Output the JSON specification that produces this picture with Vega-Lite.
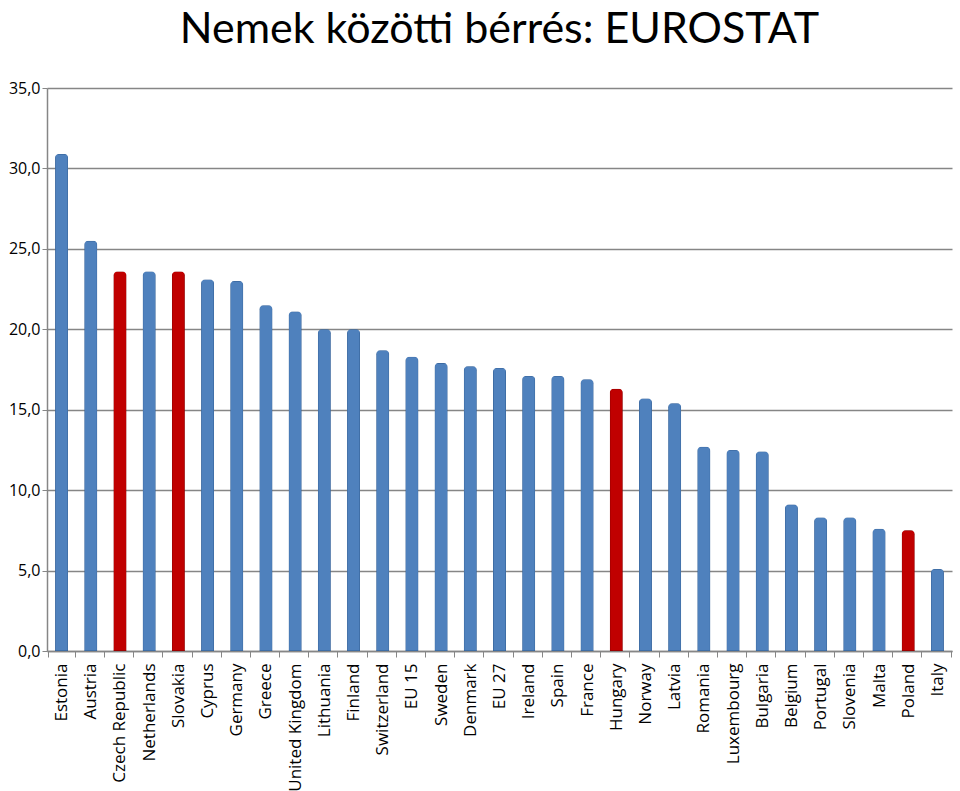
{
  "$schema": "https://vega.github.io/schema/vega-lite/v6.json",
  "autosize": {"type": "none"},
  "width": 905,
  "height": 563,
  "padding": {"left": 47, "top": 88, "right": 8, "bottom": 140},
  "background": "white",
  "title": {
    "text": "Nemek közötti bérrés: EUROSTAT",
    "font": "Lato",
    "fontSize": 43,
    "fontWeight": "normal",
    "color": "black",
    "anchor": "middle",
    "offset": -6,
    "baseline": "alphabetic"
  },
  "data": {
    "values": [
      {"country": "Estonia", "value": 30.9, "group": "other"},
      {"country": "Austria", "value": 25.5, "group": "other"},
      {"country": "Czech Republic", "value": 23.6, "group": "v4"},
      {"country": "Netherlands", "value": 23.6, "group": "other"},
      {"country": "Slovakia", "value": 23.6, "group": "v4"},
      {"country": "Cyprus", "value": 23.1, "group": "other"},
      {"country": "Germany", "value": 23.0, "group": "other"},
      {"country": "Greece", "value": 21.5, "group": "other"},
      {"country": "United Kingdom", "value": 21.1, "group": "other"},
      {"country": "Lithuania", "value": 20.0, "group": "other"},
      {"country": "Finland", "value": 20.0, "group": "other"},
      {"country": "Switzerland", "value": 18.7, "group": "other"},
      {"country": "EU 15", "value": 18.3, "group": "other"},
      {"country": "Sweden", "value": 17.9, "group": "other"},
      {"country": "Denmark", "value": 17.7, "group": "other"},
      {"country": "EU 27", "value": 17.6, "group": "other"},
      {"country": "Ireland", "value": 17.1, "group": "other"},
      {"country": "Spain", "value": 17.1, "group": "other"},
      {"country": "France", "value": 16.9, "group": "other"},
      {"country": "Hungary", "value": 16.3, "group": "v4"},
      {"country": "Norway", "value": 15.7, "group": "other"},
      {"country": "Latvia", "value": 15.4, "group": "other"},
      {"country": "Romania", "value": 12.7, "group": "other"},
      {"country": "Luxembourg", "value": 12.5, "group": "other"},
      {"country": "Bulgaria", "value": 12.4, "group": "other"},
      {"country": "Belgium", "value": 9.1, "group": "other"},
      {"country": "Portugal", "value": 8.3, "group": "other"},
      {"country": "Slovenia", "value": 8.3, "group": "other"},
      {"country": "Malta", "value": 7.6, "group": "other"},
      {"country": "Poland", "value": 7.5, "group": "v4"},
      {"country": "Italy", "value": 5.1, "group": "other"}
    ]
  },
  "mark": {
    "type": "bar",
    "width": 13,
    "strokeWidth": 1,
    "cornerRadiusTopLeft": 4,
    "cornerRadiusTopRight": 4
  },
  "encoding": {
    "x": {
      "field": "country",
      "type": "nominal",
      "sort": null,
      "axis": {
        "title": null,
        "labelAngle": -90,
        "labelFont": "Open Sans",
        "labelFontSize": 17,
        "labelColor": "black",
        "labelPadding": 6,
        "tickBand": "extent",
        "tickColor": "#868686",
        "tickSize": 6,
        "domainColor": "#868686",
        "domainWidth": 1.5,
        "grid": false
      }
    },
    "y": {
      "field": "value",
      "type": "quantitative",
      "scale": {"domain": [0, 35], "nice": false},
      "axis": {
        "title": null,
        "values": [0, 5, 10, 15, 20, 25, 30, 35],
        "format": ".1f",
        "labelExpr": "replace(datum.label, '.', ',')",
        "labelFont": "Open Sans",
        "labelFontSize": 16,
        "labelColor": "black",
        "labelPadding": 2,
        "tickColor": "#868686",
        "tickSize": 5,
        "domainColor": "#868686",
        "domainWidth": 1.5,
        "grid": true,
        "gridColor": "#868686",
        "gridWidth": 1.5
      }
    },
    "color": {
      "field": "group",
      "type": "nominal",
      "scale": {"domain": ["other", "v4"], "range": ["#4F81BD", "#C00000"]},
      "legend": null
    },
    "stroke": {
      "field": "group",
      "type": "nominal",
      "scale": {"domain": ["other", "v4"], "range": ["#2F5A8E", "#7A0000"]},
      "legend": null
    }
  },
  "config": {
    "view": {"stroke": null}
  }
}
